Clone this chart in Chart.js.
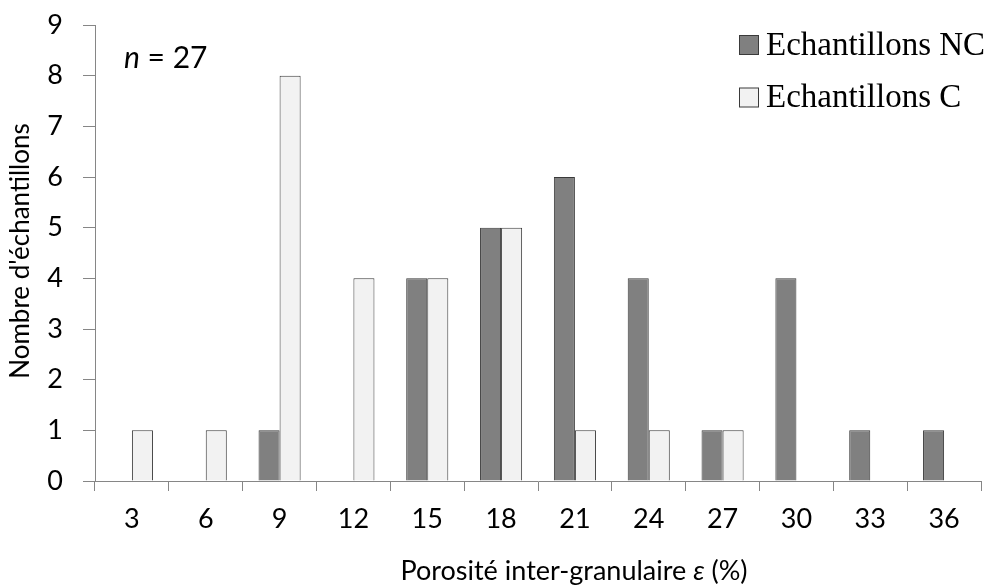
<!DOCTYPE html>
<html>
<head>
<meta charset="utf-8">
<script src="https://cdn.jsdelivr.net/npm/chart.js@4"></script>
<style>
  html, body { margin: 0; padding: 0; background: #fff; }
  #wrap { width: 997px; height: 587px; position: relative; }
</style>
</head>
<body>
<div id="wrap"><canvas id="c"></canvas></div>
<script>
const categories = ['3', '6', '9', '12', '15', '18', '21', '24', '27', '30', '33', '36'];
const seriesNC = [0, 0, 1, 0, 4, 5, 6, 4, 1, 4, 1, 1];
const seriesC  = [1, 1, 8, 4, 4, 5, 1, 1, 1, 0, 0, 0];
const labelNC = 'Echantillons NC';
const labelC = 'Echantillons C';
const yTicks = [0, 1, 2, 3, 4, 5, 6, 7, 8, 9];
const xTitle = ['Porosité inter-granulaire ', 'ε', ' (%)'];
const yTitle = "Nombre d'échantillons";
const nLabel = ['n', ' = 27'];

const SANS = 'Lato, "Open Sans", sans-serif';
const SERIF = '"Liberation Serif", "DejaVu Serif", serif';
const AXIS = '#868686';
const BORDER = '#3a3a3a';

const overlay = {
  id: 'overlay',
  afterDraw(chart) {
    const ctx = chart.ctx;
    ctx.save();
    // legend
    ctx.font = '33px ' + SERIF;
    ctx.textBaseline = 'middle';
    ctx.textAlign = 'left';
    chart.data.datasets.forEach((ds, i) => {
      const y = 45 + i * 52.5;
      ctx.fillStyle = ds.backgroundColor;
      ctx.fillRect(739.5, y - 9.5, 19, 19);
      ctx.strokeStyle = BORDER;
      ctx.lineWidth = 1;
      ctx.strokeRect(739.5, y - 9.5, 19, 19);
      ctx.fillStyle = '#000';
      ctx.fillText(ds.label, 766, y + 1);
    });
    // n = 27
    ctx.textBaseline = 'alphabetic';
    ctx.fillStyle = '#000';
    ctx.font = 'italic 30px ' + SANS;
    ctx.fillText(nLabel[0], 124, 68);
    const wn = ctx.measureText(nLabel[0]).width;
    ctx.font = '30px ' + SANS;
    ctx.fillText(nLabel[1], 124 + wn, 68);
    // x title
    const fonts = ['27px ' + SANS, 'italic 27px ' + SANS, '27px ' + SANS];
    let widths = xTitle.map((t, i) => { ctx.font = fonts[i]; return ctx.measureText(t).width; });
    const total = widths.reduce((a, b) => a + b, 0);
    let x = 574 - total / 2;
    ctx.textBaseline = 'alphabetic';
    xTitle.forEach((t, i) => { ctx.font = fonts[i]; ctx.fillText(t, x, 580); x += widths[i]; });
    // y title
    ctx.translate(29, 251);
    ctx.rotate(-Math.PI / 2);
    ctx.font = '26px ' + SANS;
    ctx.textAlign = 'center';
    ctx.fillText(yTitle, 0, 0);
    ctx.restore();
  }
};

new Chart(document.getElementById('c'), {
  type: 'bar',
  data: {
    labels: categories,
    datasets: [
      { label: labelNC, data: seriesNC, backgroundColor: '#808080', borderColor: BORDER, borderWidth: 1, borderSkipped: 'start' },
      { label: labelC, data: seriesC, backgroundColor: '#f2f2f2', borderColor: BORDER, borderWidth: 1, borderSkipped: 'start' }
    ]
  },
  options: {
    responsive: true,
    maintainAspectRatio: false,
    animation: false,
    layout: { padding: { left: 0, top: 25, right: 16, bottom: 0 } },
    datasets: { bar: { categoryPercentage: 0.57, barPercentage: 1 } },
    plugins: { legend: { display: false }, tooltip: { enabled: false }, title: { display: false } },
    scales: {
      x: {
        grid: { offset: true, drawOnChartArea: false, drawTicks: true, tickLength: 10, color: AXIS },
        border: { color: AXIS, width: 1 },
        ticks: { font: { family: SANS, size: 27 }, color: '#000', padding: 12, maxRotation: 0 },
        afterFit(s) { s.height = 106; s.paddingLeft = 0; s.paddingRight = 0; }
      },
      y: {
        min: 0, max: 9,
        afterBuildTicks(s) { s.ticks = yTicks.map(v => ({ value: v })); },
        grid: { drawOnChartArea: false, drawTicks: true, tickLength: 12, color: AXIS },
        border: { color: AXIS, width: 1 },
        ticks: { font: { family: SANS, size: 27 }, color: '#000', padding: 20, stepSize: 1 },
        afterFit(s) { s.width = 95; s.paddingTop = 0; s.paddingBottom = 0; }
      }
    }
  },
  plugins: [overlay]
});
</script>
</body>
</html>
